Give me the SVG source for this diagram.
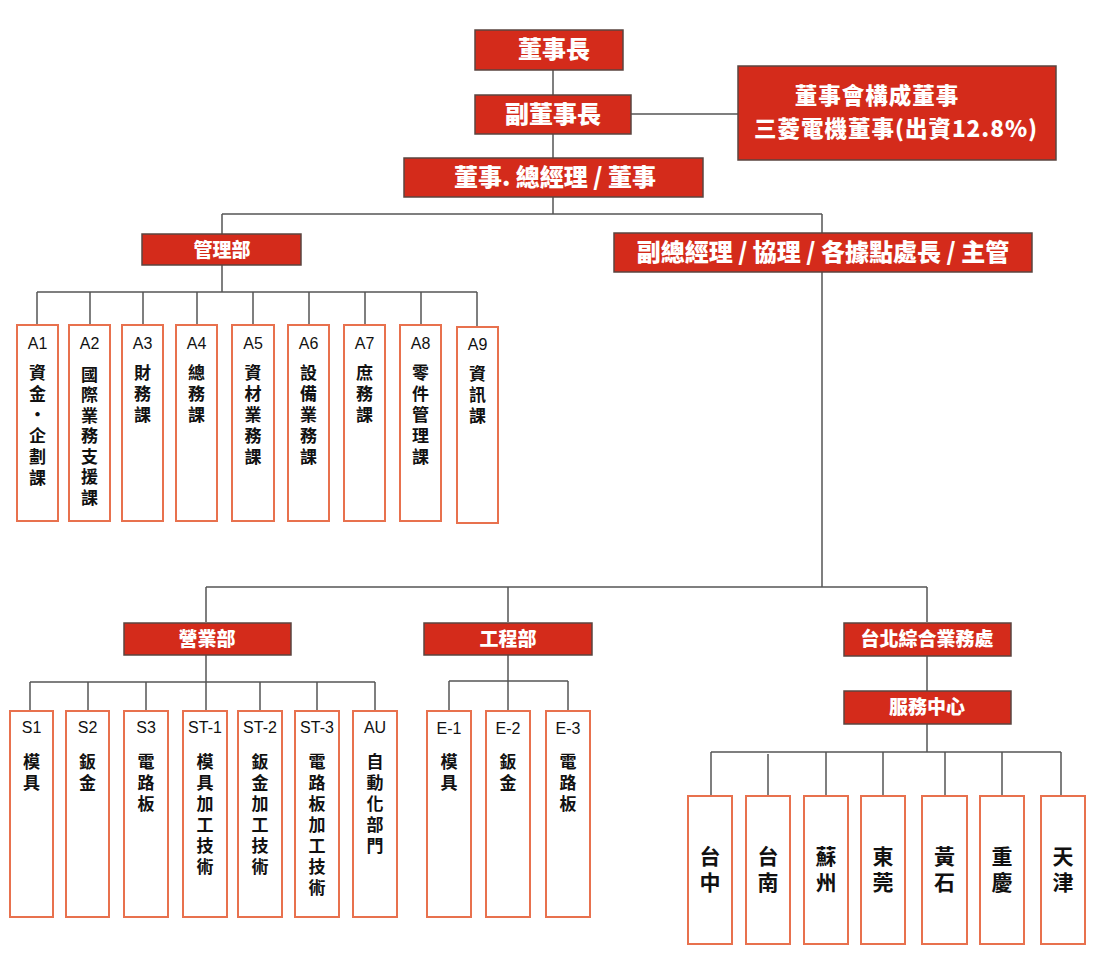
<svg xmlns="http://www.w3.org/2000/svg" width="1100" height="974" viewBox="0 0 1100 974">
<style>
.red{fill:#d42b1b;stroke:#5b4540;stroke-width:1.5}
.box{fill:#fff;stroke:#e8714e;stroke-width:2}
.ln{fill:none;stroke:#555;stroke-width:1.5}
.w{font-family:"Noto Sans CJK TC","Noto Sans CJK SC",sans-serif;font-weight:900;fill:#fff;text-anchor:middle}
.big{font-size:24px}
.brd{font-size:22.5px;letter-spacing:1px}
.mid{font-size:19px}
.code{font-family:"Liberation Sans",Arial,sans-serif;font-size:16px;fill:#111;text-anchor:middle}
.v{font-family:"Noto Sans CJK TC","Noto Sans CJK SC",sans-serif;font-weight:700;font-size:17px;fill:#111;writing-mode:vertical-rl;text-orientation:upright;letter-spacing:4px}
.v2{letter-spacing:3.5px}
.c{font-family:"Noto Sans CJK TC","Noto Sans CJK SC",sans-serif;font-weight:700;font-size:21px;fill:#111;writing-mode:vertical-rl;text-orientation:upright;letter-spacing:5px}
</style>
<rect width="1100" height="974" fill="#fff"/>
<g id="connectors" class="ln">
<path d="M553,70V158M631,114H738"/>
<path d="M553,197V214M222,214H822M222,214V234M822,214V234"/>
<path d="M222,265V292M37,292H477M37,292V325M90,292V325M143,292V325M197,292V325M253,292V325M309,292V325M365,292V325M421,292V325M477,292V327"/>
<path d="M822,272V587M206,587H927M206,587V622M508,587V622M927,587V622"/>
<path d="M206,655V682M30,682H375M30,682V710M88,682V710M146,682V710M206,682V710M260,682V710M317,682V710M375,682V710"/>
<path d="M508,655V681M449,681H568M449,681V711M508,681V711M568,681V711"/>
<path d="M927,656V691M927,724V752M711,752H1061M711,752V796M768,754V796M826,752V796M883,752V796M945,752V796M1002,752V796M1061,752V796"/>
</g>
<g id="chairman"><rect class="red" x="475" y="30" width="148" height="40"/><text class="w big" x="554" y="58">董事長</text></g>
<g id="vice-chairman"><rect class="red" x="475" y="95" width="156" height="39"/><text class="w big" x="553" y="123">副董事長</text></g>
<g id="board"><rect class="red" x="738" y="66" width="318" height="94"/><text class="w brd" x="877" y="104">董事會構成董事</text><text class="w brd" x="896" y="137">三菱電機董事(出資12.8%)</text></g>
<g id="president"><rect class="red" x="404" y="158" width="299" height="39"/><text class="w big" x="555" y="186">董事. 總經理 / 董事</text></g>
<g id="admin"><rect class="red" x="142" y="234" width="159" height="31"/><text class="w mid" x="222" y="257">管理部</text></g>
<g id="vp"><rect class="red" x="614" y="233" width="418" height="39"/><text class="w big" x="823" y="261">副總經理 / 協理 /  各據點處長 / 主管</text></g>

<g id="A1"><rect class="box" x="17" y="325" width="41" height="196"/><text class="code" x="37.5" y="349">A1</text><text class="v" x="37.5" y="364">資金·企劃課</text></g>
<g id="A2"><rect class="box" x="69" y="325" width="41" height="196"/><text class="code" x="89.5" y="349">A2</text><text class="v v2" x="89.5" y="366">國際業務支援課</text></g>
<g id="A3"><rect class="box" x="122" y="325" width="41" height="196"/><text class="code" x="142.5" y="349">A3</text><text class="v" x="142.5" y="364">財務課</text></g>
<g id="A4"><rect class="box" x="176" y="325" width="41" height="196"/><text class="code" x="196.5" y="349">A4</text><text class="v" x="196.5" y="364">總務課</text></g>
<g id="A5"><rect class="box" x="232" y="325" width="42" height="196"/><text class="code" x="253" y="349">A5</text><text class="v" x="253" y="364">資材業務課</text></g>
<g id="A6"><rect class="box" x="288" y="325" width="41" height="196"/><text class="code" x="308.5" y="349">A6</text><text class="v" x="308.5" y="364">設備業務課</text></g>
<g id="A7"><rect class="box" x="344" y="325" width="41" height="196"/><text class="code" x="364.5" y="349">A7</text><text class="v" x="364.5" y="364">庶務課</text></g>
<g id="A8"><rect class="box" x="400" y="325" width="41" height="196"/><text class="code" x="420.5" y="349">A8</text><text class="v" x="420.5" y="364">零件管理課</text></g>
<g id="A9"><rect class="box" x="457" y="327" width="41" height="196"/><text class="code" x="477.5" y="350">A9</text><text class="v" x="477.5" y="365">資訊課</text></g>

<g id="sales"><rect class="red" x="124" y="623" width="167" height="32"/><text class="w mid" x="207" y="646">營業部</text></g>
<g id="engineering"><rect class="red" x="424" y="623" width="168" height="32"/><text class="w mid" x="508" y="646">工程部</text></g>
<g id="taipei"><rect class="red" x="844" y="623" width="167" height="33"/><text class="w mid" x="927" y="646">台北綜合業務處</text></g>
<g id="service"><rect class="red" x="844" y="691" width="167" height="33"/><text class="w mid" x="927" y="714">服務中心</text></g>

<g id="S1"><rect class="box" x="10" y="711" width="43" height="206"/><text class="code" x="31.5" y="733">S1</text><text class="v" x="31.5" y="753">模具</text></g>
<g id="S2"><rect class="box" x="66" y="711" width="43" height="206"/><text class="code" x="87.5" y="733">S2</text><text class="v" x="87.5" y="753">鈑金</text></g>
<g id="S3"><rect class="box" x="124" y="711" width="44" height="206"/><text class="code" x="146" y="733">S3</text><text class="v" x="146" y="753">電路板</text></g>
<g id="ST-1"><rect class="box" x="183" y="711" width="44" height="206"/><text class="code" x="205" y="733">ST-1</text><text class="v" x="205" y="753">模具加工技術</text></g>
<g id="ST-2"><rect class="box" x="238" y="711" width="44" height="206"/><text class="code" x="260" y="733">ST-2</text><text class="v" x="260" y="753">鈑金加工技術</text></g>
<g id="ST-3"><rect class="box" x="295" y="711" width="44" height="206"/><text class="code" x="317" y="733">ST-3</text><text class="v" x="317" y="753">電路板加工技術</text></g>
<g id="AU"><rect class="box" x="353" y="711" width="44" height="206"/><text class="code" x="375" y="733">AU</text><text class="v" x="375" y="753">自動化部門</text></g>

<g id="E-1"><rect class="box" x="427" y="711" width="44" height="206"/><text class="code" x="449" y="734">E-1</text><text class="v" x="449" y="753">模具</text></g>
<g id="E-2"><rect class="box" x="486" y="711" width="44" height="206"/><text class="code" x="508" y="734">E-2</text><text class="v" x="508" y="753">鈑金</text></g>
<g id="E-3"><rect class="box" x="546" y="711" width="44" height="206"/><text class="code" x="568" y="734">E-3</text><text class="v" x="568" y="753">電路板</text></g>

<g id="taichung"><rect class="box" x="688" y="796" width="44" height="148"/><text class="c" x="710" y="846">台中</text></g>
<g id="tainan"><rect class="box" x="746" y="796" width="44" height="148"/><text class="c" x="768" y="846">台南</text></g>
<g id="suzhou"><rect class="box" x="804" y="796" width="44" height="148"/><text class="c" x="826" y="846">蘇州</text></g>
<g id="dongguan"><rect class="box" x="861" y="796" width="44" height="148"/><text class="c" x="883" y="846">東莞</text></g>
<g id="huangshi"><rect class="box" x="922" y="796" width="45" height="148"/><text class="c" x="944.5" y="846">黃石</text></g>
<g id="chongqing"><rect class="box" x="980" y="796" width="44" height="148"/><text class="c" x="1002" y="846">重慶</text></g>
<g id="tianjin"><rect class="box" x="1041" y="796" width="44" height="148"/><text class="c" x="1063" y="846">天津</text></g>
</svg>
